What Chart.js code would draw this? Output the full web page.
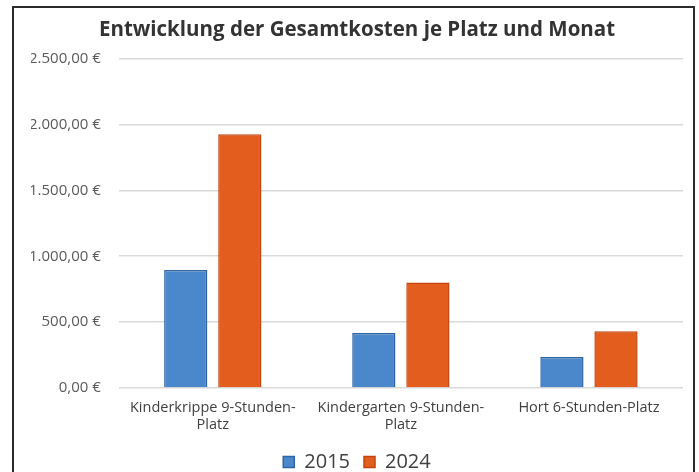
<!DOCTYPE html>
<html>
<head>
<meta charset="utf-8">
<script src="https://cdn.jsdelivr.net/npm/chart.js@4/dist/chart.umd.min.js"></script>
<style>
  body { margin: 0; background: #fff; }
  #wrap { position: relative; width: 699px; height: 472px; }
  #frame {
    position: absolute; left: 12px; top: 6px; width: 679px; height: 480px;
    border: 2px solid #2b2b2b; border-bottom: none; pointer-events: none;
  }
</style>
</head>
<body>
<div id="wrap">
  <canvas id="chart" width="699" height="472"></canvas>
  <div id="frame"></div>
</div>
<script>
const categories = [['Kinderkrippe 9-Stunden-', 'Platz'], ['Kindergarten 9-Stunden-', 'Platz'], 'Hort 6-Stunden-Platz'];
const years = ['2015', '2024'];
const costs2015 = [895, 418, 236];
const costs2024 = [1925, 800, 430];
const yTicks = [0, 500, 1000, 1500, 2000, 2500];

// 2500 -> "2.500,00 €"
function euro(v) {
  const parts = v.toFixed(2).split('.');
  const int = parts[0].replace(/\B(?=(\d{3})+(?!\d))/g, '.');
  return int + ',' + parts[1] + ' €';
}

const font = '"Open Sans", "Noto Sans", sans-serif';

new Chart(document.getElementById('chart').getContext('2d'), {
  type: 'bar',
  data: {
    labels: categories,
    datasets: [{
      label: years[0],
      data: costs2015,
      backgroundColor: '#4a88cb',
      borderColor: '#2f65a0',
      borderWidth: 1.5
    }, {
      label: years[1],
      data: costs2024,
      backgroundColor: '#e35d1f',
      borderColor: '#c2440e',
      borderWidth: 1.5
    }]
  },
  options: {
    responsive: false,
    animation: false,
    layout: { padding: { left: 31, right: 16, top: 18, bottom: -10 } },
    datasets: { bar: { categoryPercentage: 0.575, barPercentage: 0.8 } },
    scales: {
      x: {
        grid: { display: false, drawTicks: false },
        border: { display: false },
        afterFit: axis => { axis.height -= 6.8; },
        ticks: {
          color: '#404040', font: { family: font, size: 14.5 },
          maxRotation: 0, autoSkip: false, padding: 11
        }
      },
      y: {
        min: 0, max: 2500,
        afterBuildTicks: axis => { axis.ticks = yTicks.map(v => ({ value: v })); },
        afterFit: axis => { axis.width -= 20; },
        grid: { color: '#d9d9d9', lineWidth: 1.5, drawTicks: false },
        border: { display: false },
        ticks: {
          color: '#595959', font: { family: font, size: 15 },
          padding: 18, callback: v => euro(v)
        }
      }
    },
    plugins: {
      title: {
        display: true,
        text: 'Entwicklung der Gesamtkosten je Platz und Monat',
        color: '#333333',
        font: { family: font, size: 20.5, weight: 'bold' },
        padding: { top: 0, bottom: 16 }
      },
      legend: {
        position: 'bottom',
        labels: {
          color: '#404040', font: { family: font, size: 20 },
          boxWidth: 11, boxHeight: 11, padding: 14
        }
      },
      tooltip: { enabled: false }
    }
  }
});
</script>
</body>
</html>
